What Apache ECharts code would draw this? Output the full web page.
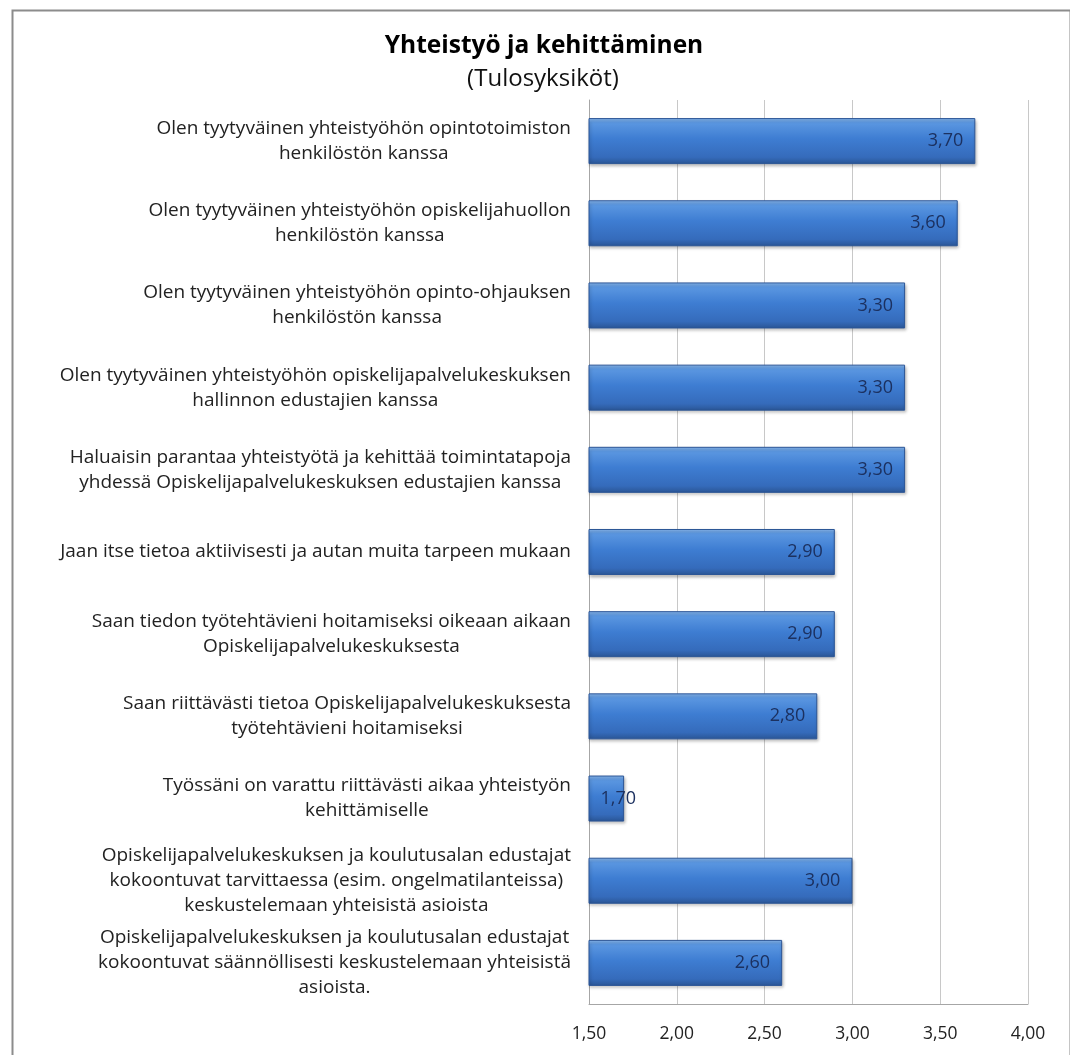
<!DOCTYPE html>
<html>
<head>
<meta charset="utf-8">
<script src="https://cdn.jsdelivr.net/npm/echarts@6/dist/echarts.min.js"></script>
<style>
html,body{margin:0;padding:0;background:#fff;}
#chart{width:1070px;height:1055px;}
</style>
</head>
<body>
<div id="chart"></div>
<script>
const titleText = 'Yhteistyö ja kehittäminen';
const subtitleText = '(Tulosyksiköt)';
const categories = [
  'Olen tyytyväinen yhteistyöhön opintotoimiston\nhenkilöstön kanssa',
  'Olen tyytyväinen yhteistyöhön opiskelijahuollon\nhenkilöstön kanssa',
  'Olen tyytyväinen yhteistyöhön opinto-ohjauksen\nhenkilöstön kanssa',
  'Olen tyytyväinen yhteistyöhön opiskelijapalvelukeskuksen\nhallinnon edustajien kanssa',
  'Haluaisin parantaa yhteistyötä ja kehittää toimintatapoja\nyhdessä Opiskelijapalvelukeskuksen edustajien kanssa',
  'Jaan itse tietoa aktiivisesti ja autan muita tarpeen mukaan',
  'Saan tiedon työtehtävieni hoitamiseksi oikeaan aikaan\nOpiskelijapalvelukeskuksesta',
  'Saan riittävästi tietoa Opiskelijapalvelukeskuksesta\ntyötehtävieni hoitamiseksi',
  'Työssäni on varattu riittävästi aikaa yhteistyön\nkehittämiselle',
  'Opiskelijapalvelukeskuksen ja koulutusalan edustajat\nkokoontuvat tarvittaessa (esim. ongelmatilanteissa)\nkeskustelemaan yhteisistä asioista',
  'Opiskelijapalvelukeskuksen ja koulutusalan edustajat\nkokoontuvat säännöllisesti keskustelemaan yhteisistä\nasioista.'
];
const values = [3.70, 3.60, 3.30, 3.30, 3.30, 2.90, 2.90, 2.80, 1.70, 3.00, 2.60];
const axisMin = 1.5, axisMax = 4.0, axisStep = 0.5;

const fmt = v => v.toFixed(2).replace('.', ',');
const FONT = '"Open Sans", "Noto Sans", sans-serif';

const chart = echarts.init(document.getElementById('chart'), null, {renderer: 'canvas'});
const barColor = new echarts.graphic.LinearGradient(0, 0, 0, 1, [
  {offset: 0, color: '#8bbaf0'},
  {offset: 0.1, color: '#5b97e1'},
  {offset: 0.45, color: '#3e7dd2'},
  {offset: 0.85, color: '#356bbb'},
  {offset: 1, color: '#2a5594'}
]);

const data = values.map(v => {
  const item = {value: v};
  if (v - axisMin < 0.35) {
    item.label = {position: 'insideLeft', distance: 12};
  }
  return item;
});

chart.setOption({
  animation: false,
  backgroundColor: '#ffffff',
  graphic: [{
    type: 'rect', left: 10, top: 8, z: -10,
    shape: {width: 1058, height: 1060},
    style: {fill: 'none', stroke: '#8c8c8c', lineWidth: 2}
  }],
  title: [{
    text: titleText, left: 539, top: 29, textAlign: 'center',
    textStyle: {fontFamily: FONT, fontSize: 24.5, fontWeight: 'bold', color: '#000'}
  }, {
    text: subtitleText, left: 538, top: 62, textAlign: 'center',
    textStyle: {fontFamily: FONT, fontSize: 24, fontWeight: 'normal', color: '#111'}
  }],
  grid: {left: 589, right: 42, top: 100, bottom: 51, containLabel: false},
  xAxis: {
    type: 'value', min: axisMin, max: axisMax, interval: axisStep,
    axisLine: {show: true, lineStyle: {color: '#a6a6a6', width: 1}},
    axisTick: {show: false},
    splitLine: {show: true, lineStyle: {color: '#c8c8c8', width: 1}},
    axisLabel: {
      formatter: v => fmt(v), margin: 21, color: '#222',
      fontFamily: FONT, fontSize: 17.5
    }
  },
  yAxis: {
    type: 'category', data: categories, inverse: true,
    axisLine: {show: true, lineStyle: {color: '#a6a6a6', width: 1}},
    axisTick: {show: false},
    axisLabel: {
      margin: 18, align: 'right',
      formatter: v => '{c|' + v + '}',
      rich: {c: {align: 'center', fontFamily: FONT, fontSize: 19, lineHeight: 25, color: '#222'}}
    }
  },
  series: [{
    type: 'bar', data: data, barCategoryGap: '44%',
    itemStyle: {color: barColor, borderColor: '#2b5596', borderWidth: 1,
      shadowColor: 'rgba(0,0,0,0.25)', shadowBlur: 3, shadowOffsetX: 1, shadowOffsetY: 2},
    label: {
      show: true, position: 'insideRight', distance: 12,
      formatter: p => fmt(p.value),
      color: '#1c3160', fontFamily: FONT, fontSize: 18
    }
  }]
});
</script>
</body>
</html>
